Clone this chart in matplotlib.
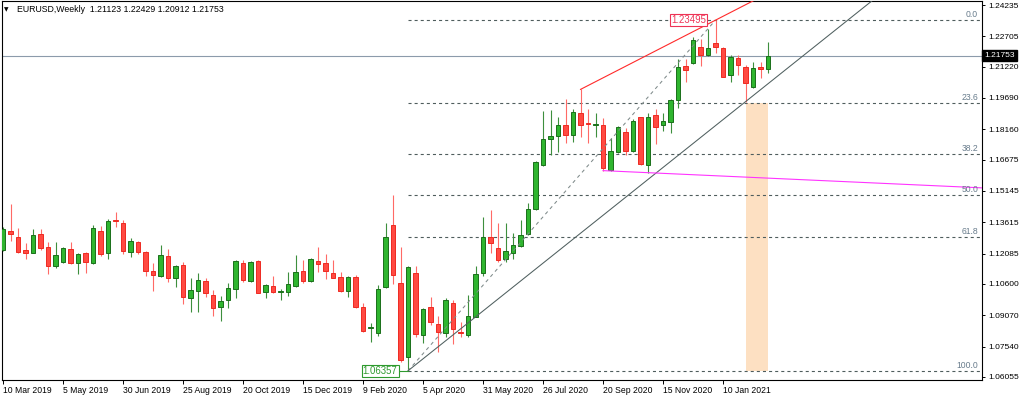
import matplotlib
matplotlib.use("Agg")
import matplotlib.pyplot as plt
from matplotlib.patches import Rectangle
import numpy as np

plt.rcParams['font.family'] = ['Liberation Sans', 'DejaVu Sans']
plt.rcParams['lines.scale_dashes'] = False

# ---------------- data ----------------
opens = [1.1226, 1.1321, 1.1288, 1.1226, 1.1213, 1.1304, 1.1239, 1.1148, 1.1169, 1.1229,
         1.1161, 1.1213, 1.1161, 1.1321, 1.1210, 1.1373, 1.1360, 1.1218, 1.1267, 1.1216,
         1.1125, 1.1099, 1.1198, 1.1091, 1.1151, 1.0990, 1.1027, 1.1075, 1.1006, 1.0946,
         1.0982, 1.1034, 1.1164, 1.1076, 1.1172, 1.1022, 1.1050, 1.1021, 1.1022, 1.1050,
         1.1125, 1.1076, 1.1172, 1.1164, 1.1112, 1.1092, 1.1027, 1.1096, 1.0949, 1.0843,
         1.0822, 1.1047, 1.1348, 1.1063, 1.0701, 1.1115, 1.0811, 1.0949, 1.0864, 1.0822,
         1.0969, 1.0827, 1.0811, 1.0900, 1.1115, 1.1291, 1.1234, 1.1180, 1.1213, 1.1246,
         1.1304, 1.1425, 1.1641, 1.1767, 1.1783, 1.1837, 1.1788, 1.1894, 1.1845, 1.1837,
         1.1837, 1.1617, 1.1707, 1.1804, 1.1712, 1.1874, 1.1641, 1.1886, 1.1837, 1.1853,
         1.1959, 1.2125, 1.2138, 1.2220, 1.2179, 1.2239, 1.2212, 1.2081, 1.2163, 1.2122,
         1.2021, 1.2122, 1.21123]
highs = [1.1340, 1.1451, 1.1332, 1.1259, 1.1329, 1.1327, 1.1264, 1.1267, 1.1242, 1.1267,
         1.1213, 1.1218, 1.1348, 1.1345, 1.1376, 1.1413, 1.1373, 1.1283, 1.1272, 1.1223,
         1.1161, 1.1250, 1.1229, 1.1153, 1.1169, 1.1088, 1.1112, 1.1088, 1.1031, 1.1001,
         1.1063, 1.1179, 1.1177, 1.1174, 1.1176, 1.1060, 1.1099, 1.1034, 1.1120, 1.1202,
         1.1177, 1.1185, 1.1239, 1.1207, 1.1177, 1.1120, 1.1099, 1.1104, 1.0965, 1.0868,
         1.1055, 1.1356, 1.1495, 1.1242, 1.1148, 1.1148, 1.0941, 1.0995, 1.0904, 1.0990,
         1.0982, 1.0876, 1.1006, 1.1148, 1.1386, 1.1422, 1.1356, 1.1356, 1.1307, 1.1373,
         1.1457, 1.1660, 1.1907, 1.1910, 1.1878, 1.1962, 1.1914, 1.2011, 1.1914, 1.1897,
         1.1870, 1.1772, 1.1832, 1.1821, 1.1865, 1.1878, 1.1894, 1.1914, 1.1894, 1.1962,
         1.2158, 1.2158, 1.2265, 1.2256, 1.2304, 1.23495, 1.2220, 1.2179, 1.2179, 1.2130,
         1.2146, 1.2146, 1.22429]
lows = [1.1220, 1.1272, 1.1210, 1.1182, 1.1210, 1.1226, 1.1107, 1.1137, 1.1164, 1.1158,
        1.1109, 1.1112, 1.1158, 1.1198, 1.1182, 1.1340, 1.1205, 1.1190, 1.1207, 1.1099,
        1.1027, 1.1095, 1.1068, 1.1047, 1.0962, 1.0925, 1.0925, 1.0995, 1.0905, 1.0881,
        1.0941, 1.0990, 1.1068, 1.1071, 1.1014, 1.0990, 1.1014, 1.0982, 1.1001, 1.1047,
        1.1066, 1.1071, 1.1120, 1.1084, 1.1088, 1.1022, 1.0995, 1.0941, 1.0827, 1.0778,
        1.0806, 1.1039, 1.1058, 1.0680, 1.06357, 1.0802, 1.0770, 1.0860, 1.0729, 1.0802,
        1.0767, 1.0802, 1.0802, 1.0897, 1.1099, 1.1210, 1.1169, 1.1169, 1.1180, 1.1241,
        1.1299, 1.1420, 1.1637, 1.1690, 1.1707, 1.1751, 1.1756, 1.1777, 1.1747, 1.1780,
        1.1614, 1.1614, 1.1702, 1.1690, 1.1707, 1.1641, 1.1604, 1.1744, 1.1809, 1.1796,
        1.1918, 1.2049, 1.2135, 1.2125, 1.2174, 1.2190, 1.2070, 1.2049, 1.2081, 1.1951,
        1.2016, 1.2065, 1.20912]
closes = [1.1327, 1.1303, 1.1218, 1.1213, 1.1299, 1.1238, 1.1148, 1.1202, 1.1234, 1.1161,
          1.1207, 1.1169, 1.1332, 1.1205, 1.1368, 1.1370, 1.1221, 1.1272, 1.1218, 1.1125,
          1.1106, 1.1202, 1.1091, 1.1148, 1.0995, 1.1031, 1.1079, 1.1018, 1.0941, 1.0977,
          1.1039, 1.1172, 1.1079, 1.1169, 1.1018, 1.1055, 1.1022, 1.1026, 1.1058, 1.1120,
          1.1076, 1.1180, 1.1156, 1.1123, 1.1091, 1.1027, 1.1096, 1.0946, 1.0832, 1.0851,
          1.1034, 1.1288, 1.1105, 1.0688, 1.1141, 1.0816, 1.0936, 1.0876, 1.0827, 1.0982,
          1.0838, 1.0822, 1.0904, 1.1109, 1.1288, 1.1259, 1.1177, 1.1223, 1.1251, 1.1299,
          1.1425, 1.1658, 1.1767, 1.1783, 1.1837, 1.1788, 1.1902, 1.1837, 1.1842, 1.1840,
          1.1625, 1.1712, 1.1829, 1.1712, 1.1858, 1.1646, 1.1874, 1.1829, 1.1858, 1.1959,
          1.2122, 1.2106, 1.2252, 1.2179, 1.2212, 1.2220, 1.2073, 1.2168, 1.2130, 1.2044,
          1.2117, 1.2112, 1.21753]

date_ticks = [0, 8, 16, 24, 32, 40, 48, 56, 64, 72, 80, 88, 96]
date_labels = ["10 Mar 2019", "5 May 2019", "30 Jun 2019", "25 Aug 2019", "20 Oct 2019",
               "15 Dec 2019", "9 Feb 2020", "5 Apr 2020", "31 May 2020", "26 Jul 2020",
               "20 Sep 2020", "15 Nov 2020", "10 Jan 2021"]
price_ticks = [1.24235, 1.22705, 1.21220, 1.19690, 1.18160, 1.16675, 1.15145,
               1.13615, 1.12085, 1.10600, 1.09070, 1.07540, 1.06055]

symbol = "EURUSD,Weekly"
last_price = 1.21753

fib_low_bar, fib_low = 54, 1.06357
fib_high_bar, fib_high = 95, 1.23495
fib_ratios = [0.0, 0.236, 0.382, 0.5, 0.618, 1.0]
fib_names = ["0.0", "23.6", "38.2", "50.0", "61.8", "100.0"]

trend_a = (54, 1.06357)   # solid support line
trend_b = (99, 1.1951)
red_a = (77, 1.2011)      # red resistance line
red_b = (95, 1.23495)
mag_a = (80, 1.1614)      # magenta line
mag_b = (86, 1.1604)
zone_bars = (99, 102)     # shaded zone

# ---------------- figure ----------------
W, H = 1024, 399
fig = plt.figure(figsize=(W / 100, H / 100), dpi=100)
fig.patch.set_facecolor('white')
L, R, T, B = 1.5, 982, 1.3, 380
ax = fig.add_axes([L / W, 1 - B / H, (R - L) / W, (B - T) / H])
ax.set_facecolor('white')

ax.set_xlim(-0.2, 130.53)
ax.set_ylim(1.05907, 1.24416)

o = np.array(opens); h = np.array(highs); lo = np.array(lows); c = np.array(closes)
x = np.arange(len(o))
up = c >= o

# shaded zone
fib_levels = [fib_high - r * (fib_high - fib_low) for r in fib_ratios]
ax.add_patch(Rectangle((zone_bars[0], fib_low), zone_bars[1] - zone_bars[0],
                       fib_levels[1] - fib_low, facecolor='#fde0c2', edgecolor='none', zorder=0.5))

# current price line
ax.axhline(last_price, color='#8c9bab', lw=0.8, zorder=1)

# fib levels
for lev, name in zip(fib_levels, fib_names):
    ax.plot([fib_low_bar, 131], [lev, lev], color='#4f5d5d', lw=0.8,
            linestyle=(0, (2.2, 2.2)), zorder=1.5)
    ax.text(130.0, lev + 0.0005, name, ha='right', va='bottom', fontsize=6.2,
            color='#687c8c', zorder=5)

# candles
bull_fill, bull_edge, bull_wick = '#2fb52f', '#1b6f1b', '#3d8f3d'
bear_fill, bear_edge, bear_wick = '#ff4a42', '#ee2a22', '#ff6a66'
ax.vlines(x[up], lo[up], h[up], color=bull_wick, lw=0.8, zorder=2)
ax.vlines(x[~up], lo[~up], h[~up], color=bear_wick, lw=0.8, zorder=2)
body = np.maximum(np.abs(c - o), 0.00012)
bottom = np.minimum(o, c)
ax.bar(x[up], body[up], bottom=bottom[up], width=0.6, color=bull_fill,
       edgecolor=bull_edge, linewidth=0.7, zorder=3)
ax.bar(x[~up], body[~up], bottom=bottom[~up], width=0.6, color=bear_fill,
       edgecolor=bear_edge, linewidth=0.7, zorder=3)

def ray(a, b, x_end):
    slope = (b[1] - a[1]) / (b[0] - a[0])
    return [a[0], x_end], [a[1], a[1] + slope * (x_end - a[0])]

# fib diagonal (dashed)
ax.plot([fib_low_bar, fib_high_bar], [fib_low, fib_high], color='#7f8a8a', lw=0.75,
        linestyle=(0, (2.5, 2.5)), zorder=4)
# solid trend line
xs, ys = ray(trend_a, trend_b, 140)
ax.plot(xs, ys, color='#4f5f5f', lw=0.75, zorder=4)
# red line
xs, ys = ray(red_a, red_b, 140)
ax.plot(xs, ys, color='#ff2a2a', lw=0.8, zorder=4)
# magenta line
xs, ys = ray(mag_a, mag_b, 140)
ax.plot(xs, ys, color='#ff33ff', lw=0.8, zorder=4)

# price labels
ax.plot([fib_low_bar - 1.3, fib_low_bar], [fib_low, fib_low], color='#2e9a2e', lw=0.8, zorder=5)
ax.annotate(f"{fib_low:.5f}", xy=(fib_low_bar, fib_low), xytext=(-7.6, 0),
            textcoords='offset points', ha='right', va='center', fontsize=6.9,
            color='#2e9a2e', zorder=6,
            bbox=dict(boxstyle='square,pad=0.12', fc='white', ec='#2e9a2e', lw=0.8))
ax.annotate(f"{fib_high:.5f}", xy=(fib_high_bar, fib_high), xytext=(-7.0, 0),
            textcoords='offset points', ha='right', va='center', fontsize=6.9,
            color='#ee3355', zorder=6,
            bbox=dict(boxstyle='square,pad=0.12', fc='white', ec='#ee3355', lw=0.8))

# axes styling
for s in ax.spines.values():
    s.set_color('black'); s.set_linewidth(0.8)
ax.yaxis.tick_right()
ax.set_yticks(price_ticks)
ax.set_yticklabels([f"{p:.5f}" for p in price_ticks])
ax.tick_params(axis='y', direction='out', length=2.5, width=0.7, pad=1.8,
               labelsize=6.0, colors='black')
ax.set_xticks(date_ticks)
ax.set_xticklabels(date_labels, ha='left')
ax.tick_params(axis='x', direction='out', length=3, width=0.7, pad=1.2,
               labelsize=6.2, colors='black')

# current price box on axis
ax.annotate(f"{last_price:.5f}", xy=(1.0, last_price), xycoords=('axes fraction', 'data'),
            xytext=(1.6, 0), textcoords='offset points', ha='left', va='center',
            fontsize=6.0, color='white', zorder=10, annotation_clip=False,
            bbox=dict(boxstyle='square,pad=0.25', fc='black', ec='black'))

# header
fig.text(3.5 / W, 1 - 9.5 / H, "\u25bc", fontsize=4.2, family=['DejaVu Sans'],
         ha='left', va='center', color='black')
fig.text(17 / W, 1 - 9.5 / H,
         f"{symbol}  {opens[-1]:.5f} {highs[-1]:.5f} {lows[-1]:.5f} {closes[-1]:.5f}",
         fontsize=6.3, ha='left', va='center', color='black')

fig.savefig("out.png", dpi=100, facecolor='white')
